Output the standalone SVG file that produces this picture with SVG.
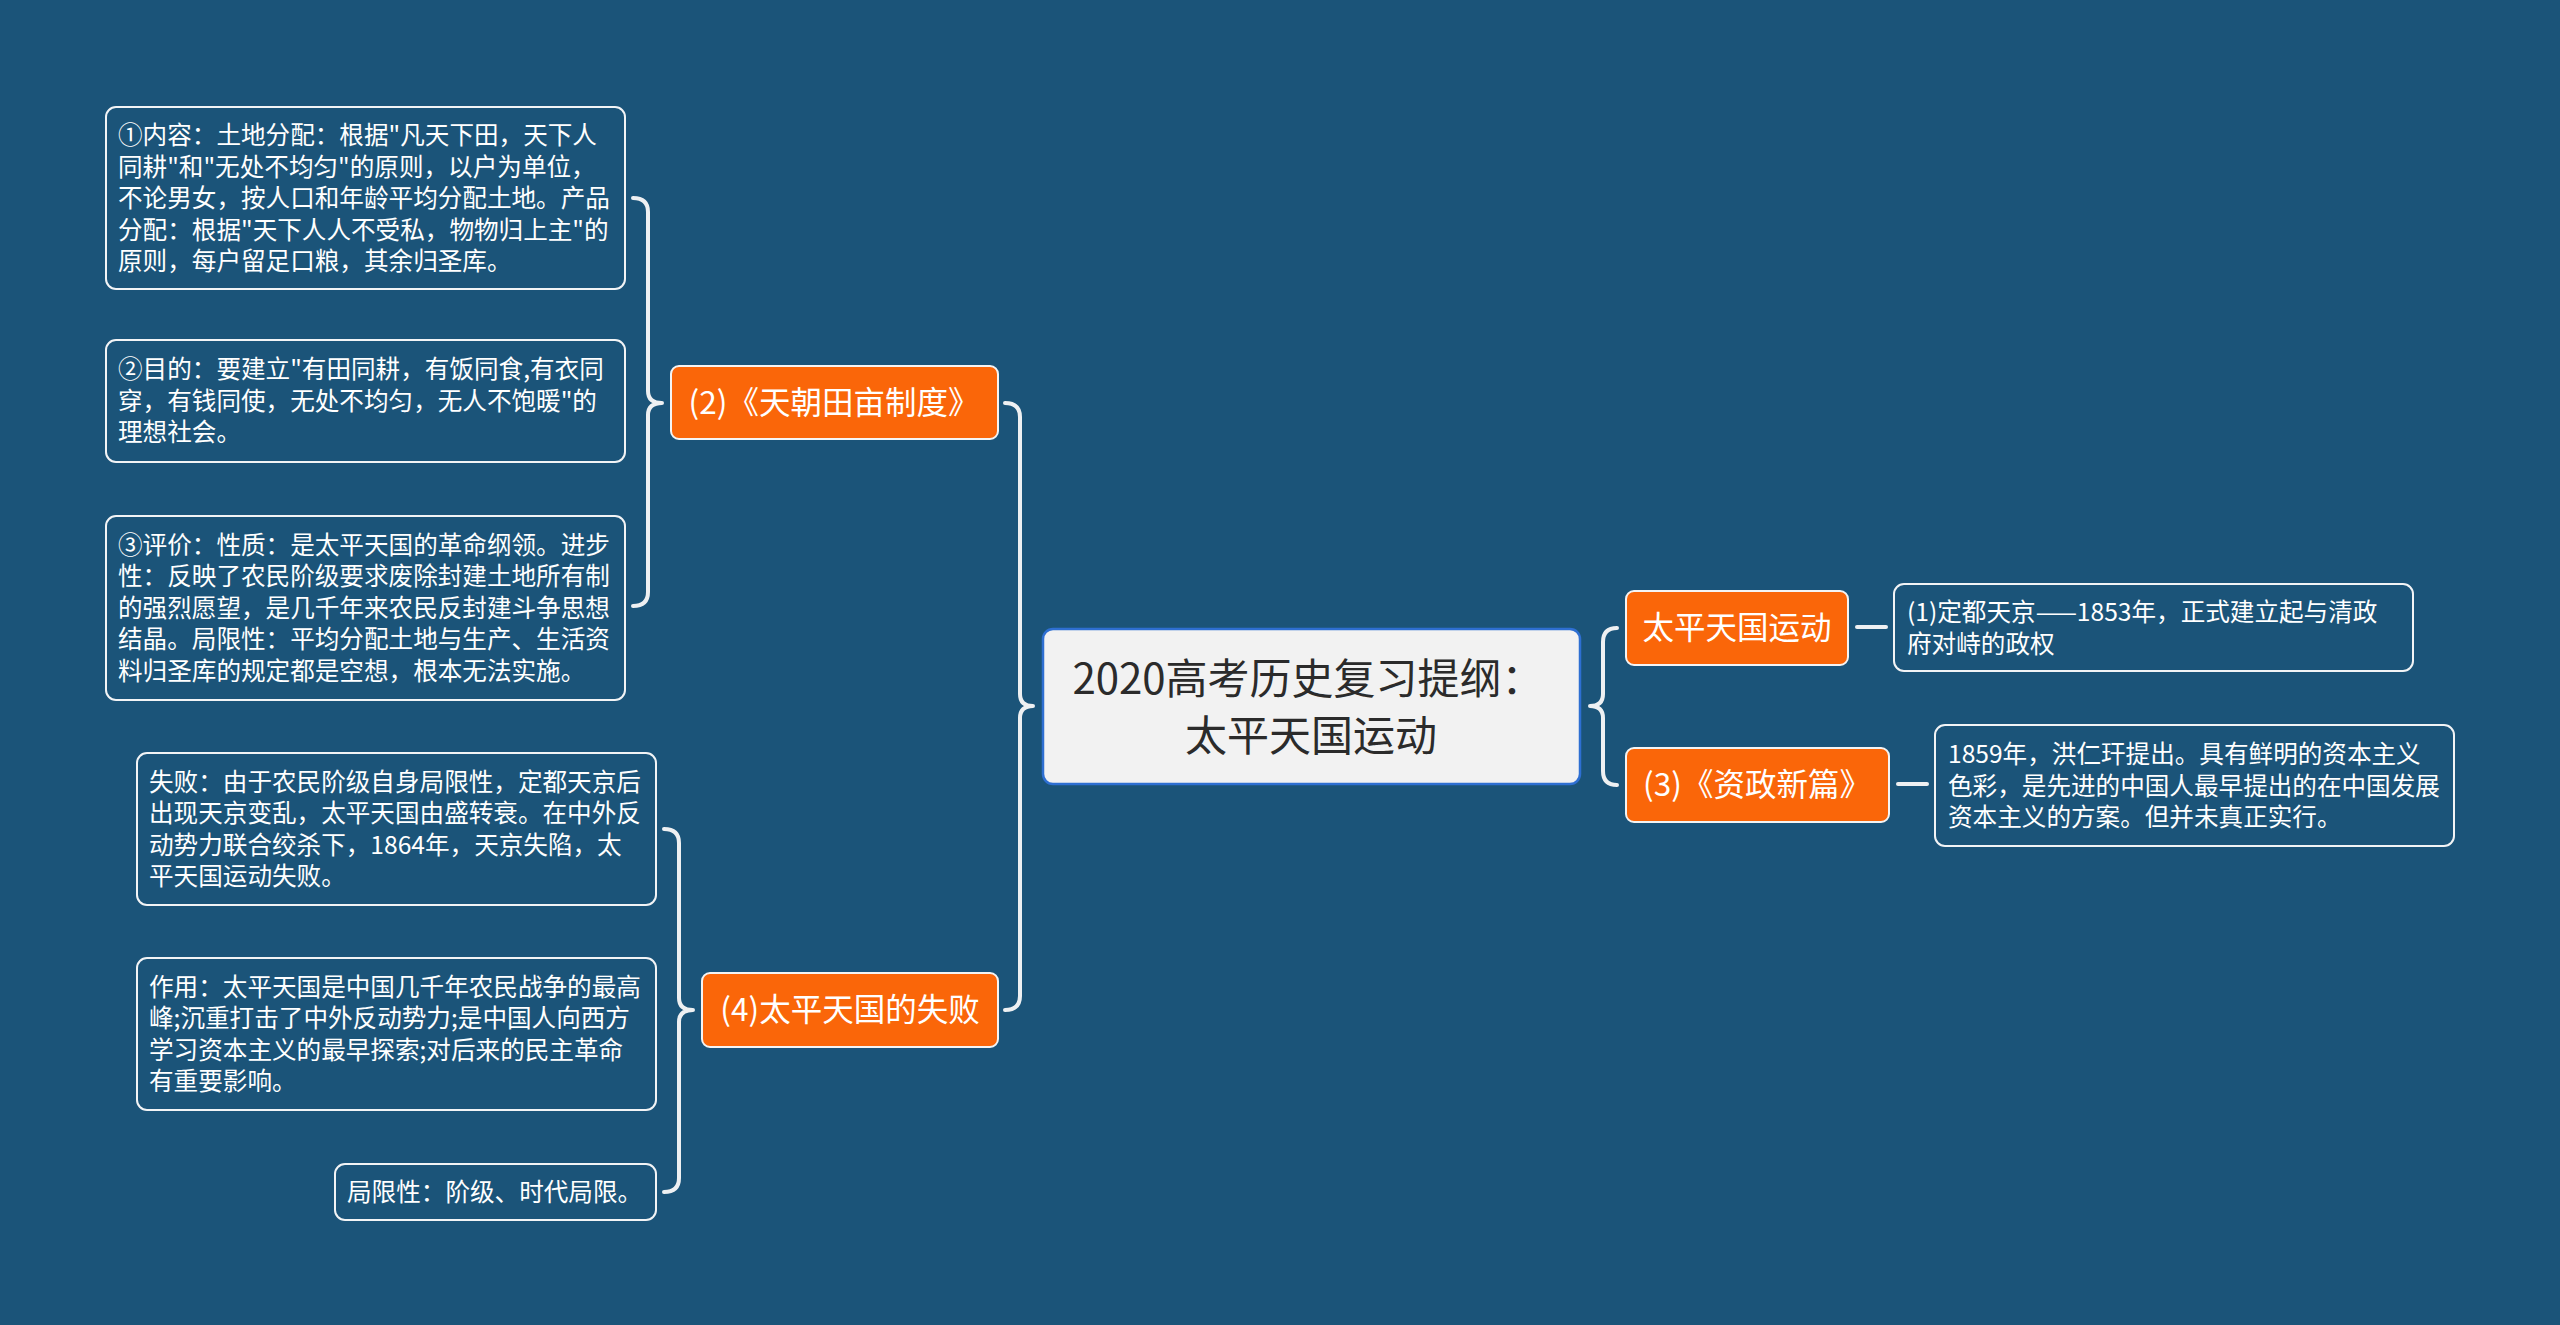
<svg xmlns="http://www.w3.org/2000/svg" width="2560" height="1325" viewBox="0 0 2560 1325">
<style>
text{font-family:"Noto Sans CJK SC","Noto Sans",sans-serif}
.leaf rect{fill:#1b5479;stroke:#f2f4f6;stroke-width:2}
.leaf text{fill:#ffffff;font-size:24.6px}
.mid rect{fill:#fa6609;stroke:#f4f4f4;stroke-width:2}
.mid text{fill:#ffffff;font-size:31.5px;text-anchor:middle}
.root rect{fill:#f2f2f2;stroke:#2e6fd2;stroke-width:2.5}
.root text{fill:#2b2b2b;font-size:42px;text-anchor:middle}
.conn path{fill:none;stroke:#eef0f2;stroke-width:4;stroke-linecap:round;stroke-linejoin:round}
</style>
<rect x="0" y="0" width="2560" height="1325" fill="#1b5479"/>
<g class="conn" id="connectors">
<path d="M1617,628 Q1603,628 1603,642 L1603,694 Q1603,706 1590,706 Q1603,706 1603,718 L1603,771 Q1603,785 1617,785"/>
<path d="M1005,403 Q1020,403 1020,417 L1020,694 Q1020,706 1033,706 Q1020,706 1020,718 L1020,996 Q1020,1010 1005,1010"/>
<path d="M633,198 Q648,198 648,212 L648,391 Q648,403 662,403 Q648,403 648,415 L648,592 Q648,606 633,606"/>
<path d="M664,829 Q679,829 679,843 L679,998 Q679,1010 693,1010 Q679,1010 679,1022 L679,1178 Q679,1192 664,1192"/>
<path d="M1857,627 L1886,627"/>
<path d="M1898,784 L1927,784"/>
</g>
<g class="root" id="root">
<rect x="1043" y="629" width="537" height="155" rx="10"/>
<text x="1308" y="694">2020高考历史复习提纲：</text>
<text x="1311" y="751">太平天国运动</text>
</g>
<g class="mid" id="n2">
<rect x="671" y="366" width="327" height="73" rx="8"/>
<text x="834" y="414">(2)《天朝田亩制度》</text>
</g>
<g class="mid" id="n4">
<rect x="702" y="973" width="296" height="74" rx="8"/>
<text x="850" y="1021">(4)太平天国的失败</text>
</g>
<g class="mid" id="n1">
<rect x="1626" y="591" width="222" height="74" rx="8"/>
<text x="1737" y="639">太平天国运动</text>
</g>
<g class="mid" id="n3">
<rect x="1626" y="748" width="263" height="74" rx="8"/>
<text x="1757" y="796">(3)《资政新篇》</text>
</g>
<g class="leaf" id="l21">
<rect x="106" y="107" width="519" height="182" rx="10"/>
<text x="118" y="144">①内容：土地分配：根据"凡天下田，天下人</text>
<text x="118" y="176">同耕"和"无处不均匀"的原则，以户为单位，</text>
<text x="118" y="207">不论男女，按人口和年龄平均分配土地。产品</text>
<text x="118" y="239">分配：根据"天下人人不受私，物物归上主"的</text>
<text x="118" y="270">原则，每户留足口粮，其余归圣库。</text>
</g>
<g class="leaf" id="l22">
<rect x="106" y="340" width="519" height="122" rx="10"/>
<text x="118" y="378">②目的：要建立"有田同耕，有饭同食,有衣同</text>
<text x="118" y="410">穿，有钱同使，无处不均匀，无人不饱暖"的</text>
<text x="118" y="441">理想社会。</text>
</g>
<g class="leaf" id="l23">
<rect x="106" y="516" width="519" height="184" rx="10"/>
<text x="118" y="554">③评价：性质：是太平天国的革命纲领。进步</text>
<text x="118" y="585">性：反映了农民阶级要求废除封建土地所有制</text>
<text x="118" y="617">的强烈愿望，是几千年来农民反封建斗争思想</text>
<text x="118" y="648">结晶。局限性：平均分配土地与生产、生活资</text>
<text x="118" y="680">料归圣库的规定都是空想，根本无法实施。</text>
</g>
<g class="leaf" id="l41">
<rect x="137" y="753" width="519" height="152" rx="10"/>
<text x="149" y="791">失败：由于农民阶级自身局限性，定都天京后</text>
<text x="149" y="822">出现天京变乱，太平天国由盛转衰。在中外反</text>
<text x="149" y="854">动势力联合绞杀下，1864年，天京失陷，太</text>
<text x="149" y="885">平天国运动失败。</text>
</g>
<g class="leaf" id="l42">
<rect x="137" y="958" width="519" height="152" rx="10"/>
<text x="149" y="996">作用：太平天国是中国几千年农民战争的最高</text>
<text x="149" y="1027">峰;沉重打击了中外反动势力;是中国人向西方</text>
<text x="149" y="1059">学习资本主义的最早探索;对后来的民主革命</text>
<text x="149" y="1090">有重要影响。</text>
</g>
<g class="leaf" id="l43">
<rect x="335" y="1164" width="321" height="56" rx="10"/>
<text x="347" y="1201">局限性：阶级、时代局限。</text>
</g>
<g class="leaf" id="l11">
<rect x="1894" y="584" width="519" height="87" rx="10"/>
<text x="1907" y="621">(1)定都天京——1853年，正式建立起与清政</text>
<text x="1907" y="653">府对峙的政权</text>
</g>
<g class="leaf" id="l31">
<rect x="1935" y="725" width="519" height="121" rx="10"/>
<text x="1948" y="763">1859年，洪仁玕提出。具有鲜明的资本主义</text>
<text x="1948" y="795">色彩，是先进的中国人最早提出的在中国发展</text>
<text x="1948" y="826">资本主义的方案。但并未真正实行。</text>
</g>
</svg>
